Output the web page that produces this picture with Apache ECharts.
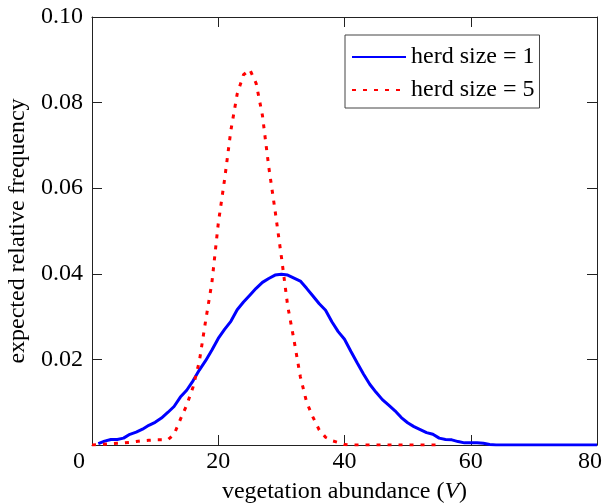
<!DOCTYPE html>
<html>
<head>
<meta charset="utf-8">
<script src="https://cdn.jsdelivr.net/npm/echarts@6/dist/echarts.min.js"></script>
<style>html,body{margin:0;padding:0;background:#fff;}#c{width:610px;height:504px;}</style>
</head>
<body>
<div id="c"></div>
<script>
// Data
const seriesNames = ['herd size = 1', 'herd size = 5'];
const xTicks = [0, 20, 40, 60, 80];
const yTicks = [0, 0.02, 0.04, 0.06, 0.08, 0.10];

const herd1X = [1,2,3,4,5,6,7,8,9,10,11,12,13,14,15,16,17,18,19,20,21,22,23,24,25,26,27,28,29,30,31,32,33,34,35,36,37,38,39,40,41,42,43,44,45,46,47,48,49,50,51,52,53,54,55,56,57,58,59,60,61,62,63,64,65,66,67,68,69,70,71,72,73,74,75,76,77,78,79,80];
const herd1Y = [0.0003,0.0009,0.0013,0.0013,0.0016,0.0025,0.0030,0.0037,0.0046,0.0053,0.0063,0.0076,0.0090,0.0112,0.0128,0.0150,0.0175,0.0197,0.0222,0.0249,0.0270,0.0289,0.0316,0.0334,0.0350,0.0366,0.0380,0.0389,0.0397,0.0399,0.0397,0.0390,0.0383,0.0366,0.0348,0.0330,0.0315,0.0288,0.0265,0.0247,0.0219,0.0192,0.0166,0.0142,0.0123,0.0106,0.0093,0.0080,0.0064,0.0052,0.0043,0.0036,0.0029,0.0025,0.0016,0.0013,0.0012,0.0008,0.0005,0.0005,0.0005,0.0004,0.0001,0,0,0,0,0,0,0,0,0,0,0,0,0,0,0,0,0];

const herd5X = [0,1,2,3,4,5,6,7,8,9,10,11,12,13,14,15,16,17,18,19,20,21,22,23,24,25,26,27,28,29,30,31,32,33,34,35,36,37,38,39,40,41,42,43,44,45,46,47,48,49,50,51,52,53,54,55];
const herd5Y = [0,0.0001,0.0002,0.0003,0.0004,0.0005,0.0006,0.0008,0.0010,0.0011,0.0012,0.0012,0.0012,0.0025,0.0060,0.0093,0.0135,0.0195,0.0290,0.0380,0.0517,0.0620,0.0735,0.0820,0.0865,0.0877,0.0845,0.0770,0.0650,0.0548,0.0440,0.0325,0.0245,0.0160,0.0100,0.0065,0.0035,0.0018,0.0010,0.0006,0.0001,0,0,0,0,0,0,0,0,0,0,0,0,0,0,0];

const FONT = '"Liberation Serif", "DejaVu Serif", serif';
const FS = 24;
const AXC = '#222';

const herd1 = herd1X.map((x, i) => [x, herd1Y[i]]);
const herd5 = herd5X.map((x, i) => [x, herd5Y[i]]);

const chart = echarts.init(document.getElementById('c'), null, {renderer: 'canvas'});

const xBase = {
  type: 'value', min: xTicks[0], max: xTicks[xTicks.length - 1], interval: xTicks[1] - xTicks[0],
  axisLine: {show: true, onZero: false, lineStyle: {color: AXC, width: 1}},
  axisTick: {show: true, inside: true, length: 10, lineStyle: {color: AXC, width: 1}},
  splitLine: {show: false}
};
const yBase = {
  type: 'value', min: yTicks[0], max: yTicks[yTicks.length - 1], interval: yTicks[1] - yTicks[0],
  axisLine: {show: true, onZero: false, lineStyle: {color: AXC, width: 1}},
  axisTick: {show: true, inside: true, length: 10, lineStyle: {color: AXC, width: 1}},
  splitLine: {show: false}
};

chart.setOption({
  animation: false,
  backgroundColor: '#fff',
  textStyle: {fontFamily: FONT},
  grid: {left: 92, right: 13, top: 17, bottom: 59, containLabel: false, outerBoundsMode: 'none'},
  legend: {
    orient: 'vertical', left: 345, top: 35,
    padding: [10, 5, 6, 6],
    itemGap: 9, itemWidth: 54, itemHeight: 14,
    borderColor: '#444', borderWidth: 1, backgroundColor: '#fff',
    itemStyle: {opacity: 0},
    textStyle: {fontFamily: FONT, fontSize: FS, color: '#000', lineHeight: 24},
    data: seriesNames
  },
  xAxis: [
    Object.assign({}, xBase, {
      position: 'bottom',
      name: 'vegetation abundance ({i|V})',
      nameLocation: 'middle', nameGap: 35,
      nameTextStyle: {fontFamily: FONT, fontSize: FS, color: '#000',
        rich: {i: {fontFamily: FONT, fontSize: FS, fontStyle: 'italic', color: '#000'}}},
      axisLabel: {
        show: true, margin: 5, fontFamily: FONT, fontSize: FS, color: '#000',
        formatter: function (v) {
          if (v === 0) return '{l|0}';
          if (v === 80) return '{r|80}';
          return String(v);
        },
        rich: {
          l: {fontFamily: FONT, fontSize: FS, color: '#000', padding: [0, 26, 0, 0]},
          r: {fontFamily: FONT, fontSize: FS, color: '#000', padding: [0, 14, 0, 0]}
        }
      }
    }),
    Object.assign({}, xBase, {position: 'top', axisLabel: {show: false}})
  ],
  yAxis: [
    Object.assign({}, yBase, {
      position: 'left',
      name: 'expected relative frequency',
      nameLocation: 'middle', nameGap: 60,
      nameTextStyle: {fontFamily: FONT, fontSize: FS, color: '#000'},
      axisLabel: {
        show: true, margin: 9, fontFamily: FONT, fontSize: FS, color: '#000',
        formatter: function (v) { return v === 0 ? '' : v.toFixed(2); }
      }
    }),
    Object.assign({}, yBase, {position: 'right', axisLabel: {show: false}})
  ],
  series: [
    {
      name: seriesNames[0], type: 'line', data: herd1,
      xAxisIndex: 0, yAxisIndex: 0,
      symbol: 'none', showSymbol: false, smooth: false,
      lineStyle: {color: '#0000ff', width: 3},
      itemStyle: {color: '#0000ff'}
    },
    {
      name: seriesNames[1], type: 'line', data: herd5,
      xAxisIndex: 0, yAxisIndex: 0,
      symbol: 'none', showSymbol: false, smooth: false,
      lineStyle: {color: '#ff0000', width: 3, type: [4, 7], cap: 'butt'},
      itemStyle: {color: '#ff0000'}
    }
  ]
});
</script>
</body>
</html>
